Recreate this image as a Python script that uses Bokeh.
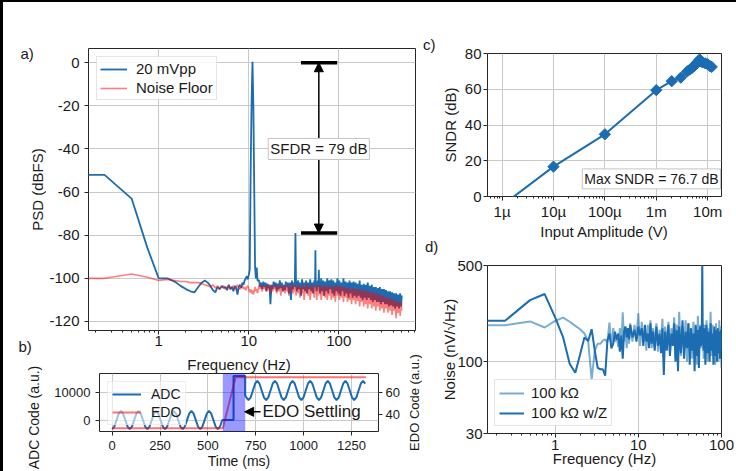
import math
from bokeh.plotting import figure
from bokeh.layouts import row, column
from bokeh.models import (Range1d, LinearAxis, FixedTicker, CustomJSTickFormatter, Spacer,
                          Legend, LegendItem, Label, Arrow, NormalHead, BoxAnnotation)
from bokeh.core.properties import value
from bokeh.embed import file_html
from bokeh.resources import INLINE

# ---------------- panel a: PSD ----------------
freq_lo = [0.125, 0.25, 0.5, 0.75, 1.0, 1.25, 1.5, 1.75, 2.0, 2.25, 2.5, 2.75, 3.0, 3.25, 3.5, 3.75,
           4.0, 4.25, 4.5, 4.75, 5.0, 5.25, 5.5, 5.75, 6.0, 6.25, 6.5, 6.75, 7.0, 7.25, 7.5, 7.75,
           8.0, 8.25, 8.5, 8.75, 9.0, 9.25, 9.5, 9.75, 10.0, 10.25, 10.5, 10.75, 11.0, 11.25, 11.5,
           11.75, 12.0, 12.25, 12.5]
sig_lo = [-52, -52, -63, -86, -100, -100, -101.5, -103.5, -105, -106, -106.5, -104, -102, -101, -102,
          -103.5, -105.5, -106.5, -104, -105, -103.5, -104.5, -104, -105.5, -103, -105, -104, -106,
          -103.5, -104.5, -107.5, -104, -103, -104.5, -102, -103, -101, -100, -99, -100.5, -98.5, -96,
          -50, -18, 0.5, -20, -58, -95, -100, -95, -101]
floor_lo = [-100, -100, -98, -99.5, -101, -100.5, -101, -101.5, -101.5, -102, -102, -102, -102.5, -103,
            -103.5, -104, -103, -104.5, -103.5, -105, -104, -103.5, -105, -104, -103.5, -105, -104,
            -103.5, -105, -104, -103, -104.5, -105, -104, -103.5, -105, -104, -105.5, -104, -103.5,
            -105, -106.5, -105, -107, -105.5, -107.5, -106, -104, -106, -105, -107]
freq_hi = [13, 13.4, 13.7, 14.1, 14.5, 14.9, 15.3, 15.7, 16.1, 16.5,
           17, 17.4, 17.9, 18.4, 18.9, 19.4, 19.9, 20.4, 21, 21.5,
           22.1, 22.7, 23.3, 23.9, 24.5, 25.2, 25.8, 26.5, 27.2, 27.9,
           28.7, 29.4, 30.2, 31, 31.8, 32.5, 33, 33.5, 34.3, 35.2,
           36.2, 37.1, 38.1, 39.1, 40.1, 41.2, 42.3, 43.4, 44.5, 45.7,
           46.9, 48.1, 49.4, 50.7, 52, 53.4, 54.5, 55, 55.5, 56.9,
           58.4, 59.5, 60, 60.5, 62.1, 63.7, 65.4, 67.1, 68.9, 70.7,
           72.6, 74.5, 76.4, 78.4, 80.5, 82.6, 84.8, 87, 89.3, 91.6,
           94, 96.5, 99, 101.6, 104.3, 107, 109.8, 112.7, 115.7, 118.7,
           121.8, 125, 128.3, 131.6, 135.1, 138.6, 142.3, 146, 149.8, 153.7,
           157.8, 161.9, 166.1, 170.5, 175, 179.5, 184.2, 189.1, 194, 199.1,
           204.3, 209.7, 215.2, 220.8, 226.6, 232.6, 238.7, 244.9, 251.3, 257.9,
           264.7, 271.6, 278.7, 286, 293.5, 301.2, 309.1, 317.2, 325.5, 334,
           342.8, 351.8, 361, 370.5, 380.2, 390.1, 400.3, 410.8, 421.6, 432.6,
           444, 455.6, 467.5, 479.8, 492.3, 500]
sig_hi = [-101, -104, -102, -105, -101.5, -104, -102, -106, -102.5, -104.5,
          -103, -112, -103, -105, -101.5, -104, -102, -106, -102.5, -105,
          -101, -104.5, -102, -106, -103, -105.5, -101.5, -104, -102, -107,
          -102, -110, -101, -105, -102, -104, -79, -103, -106, -101,
          -105, -102, -108, -100.5, -105, -102, -106, -101, -107, -102,
          -105, -100.5, -106, -102, -107, -101, -104, -87, -103, -106,
          -101, -104, -96, -103, -107, -100, -106, -101, -108, -101.5,
          -106, -100, -107, -101, -105, -100.5, -107, -101, -108, -102,
          -106, -100, -107, -101, -108, -102, -106, -100, -108, -101.5,
          -107, -102, -109, -101, -107, -102, -109, -101.5, -108, -102,
          -109, -102.5, -108, -101, -109, -103, -110, -102.5, -109, -103,
          -110, -102, -109, -103.5, -110, -103, -111, -104, -110, -104,
          -111, -104.5, -111, -104, -112, -105, -111, -105, -112, -105.5,
          -112, -106, -113, -106, -112.5, -106.5, -113, -107, -114, -107,
          -113, -107.5, -114, -107, -113, -108]
floor_hi = [-103, -105, -103.5, -106, -103, -105, -104, -106, -103, -105.5,
            -103.5, -107, -103, -106, -104, -105, -102.5, -107, -104, -106,
            -103, -108, -104, -106, -103, -107, -104, -106, -103, -108,
            -104, -106, -102.5, -107, -104, -106, -103, -108, -104, -107,
            -103, -109, -104, -107, -103, -110, -104, -107, -102.5, -108,
            -104, -110, -103, -107, -104, -109, -103, -107, -104, -110,
            -103, -108, -104, -107, -103, -110, -104, -108, -103, -109,
            -104, -110, -103, -108, -104, -110, -103.5, -109, -104, -111,
            -103, -108, -104, -110, -103.5, -109, -104, -111, -104, -109,
            -104.5, -111, -104, -110, -105, -112, -104.5, -110, -105, -112,
            -105, -110.5, -105, -113, -105.5, -111, -105, -113, -106, -112,
            -105.5, -114, -106, -112, -106.5, -114, -106, -113, -107, -115,
            -107, -113, -107.5, -115, -108, -114, -108, -116, -108.5, -114,
            -109, -116, -109, -115, -109.5, -117, -110, -115, -110, -118.5,
            -110.5, -116, -111, -117.5, -111, -115]
freq_a = freq_lo + freq_hi
psd_signal = sig_lo + sig_hi
psd_floor = floor_lo + floor_hi
freq_a_ticks = [1, 10, 100]
freq_a_labels = ["1", "10", "100"]
psd_ticks = [-120, -100, -80, -60, -40, -20, 0]
psd_labels = ["-120", "-100", "-80", "-60", "-40", "-20", "0"]
sfdr_bar_hz = [38, 96]
sfdr_levels = [0, -79]
sfdr_arrow_hz = 60
sfdr_text_db = -40

# ---------------- panel b: time domain ----------------
t_adc = [0, 11.5, 23, 34.5, 46, 57.5, 69, 80.5, 92, 103.5, 115, 126.5, 138, 149.5, 161, 172.5,
         184, 195.5, 207, 218.5, 230, 241.5, 253, 264.5, 276, 287.5, 299, 310.5, 322, 333.5, 345,
         356.5, 368, 379.5, 391, 402.5, 414, 425.5, 437, 448.5, 460, 471.5, 483, 494.5, 506, 517.5,
         529, 540.5, 552, 563.5, 575,
         578, 634, 634, 695, 695,
         700.5, 712, 723.5, 735, 746.5, 758, 769.5, 781, 792.5, 804, 815.5, 827, 838.5, 850, 861.5,
         873, 884.5, 896, 907.5, 919, 930.5, 942, 953.5, 965, 976.5, 988, 999.5, 1011, 1022.5,
         1034, 1045.5, 1057, 1068.5, 1080, 1091.5, 1103, 1114.5, 1126, 1137.5, 1149, 1160.5, 1172,
         1183.5, 1195, 1206.5, 1218, 1229.5, 1241, 1252.5, 1264, 1275.5, 1287, 1298.5, 1310, 1321.5]
adc_code = [-3300, -2330, 0, 2330, 3300, 2330, 0, -2330, -3300, -2330, 0, 2330, 3300, 2330, 0, -2330,
            -3300, -2330, 0, 2330, 3300, 2330, 0, -2330, -3300, -2330, 0, 2330, 3300, 2330, 0, -2330,
            -3300, -2330, 0, 2330, 3300, 2330, 0, -2330, -3300, -2330, 0, 2330, 3300, 2330, 0, -2330,
            -3300, -2330, 0,
            0, 0, 16000, 16000, 9000,
            8225, 7200, 8225, 10700, 13175, 14200, 13175, 10700, 8225, 7200, 8225, 10700, 13175, 14200,
            13175, 10700, 8225, 7200, 8225, 10700, 13175, 14200, 13175, 10700, 8225, 7200, 8225, 10700,
            13175, 14200, 13175, 10700, 8225, 7200, 8225, 10700, 13175, 14200, 13175, 10700, 8225,
            7200, 8225, 10700, 13175, 14200, 13175, 10700, 8225, 7200, 8225, 10700, 13175, 14200, 13175]
t_edo = [0, 578, 645, 1325]
edo_code = [27, 27, 74, 74]
settle_ms = [578, 695]
settle_arrow_ms = [775, 692]
settle_arrow_code = 3000
time_ticks = [0, 250, 500, 750, 1000, 1250]
time_labels = ["0", "250", "500", "750", "1000", "1250"]
adc_ticks = [0, 10000]
adc_labels = ["0", "10000"]
edo_ticks = [40, 60]
edo_labels = ["40", "60"]

# ---------------- panel c: SNDR ----------------
amp_v = [1e-6, 1e-5, 1e-4, 1e-3, 2e-3, 3e-3, 4e-3, 4.5e-3, 5e-3, 5.5e-3, 6e-3, 6.5e-3, 7e-3,
         7.5e-3, 8e-3, 9e-3, 1e-2, 1.1e-2, 1.2e-2]
sndr_db = [-5, 16.7, 34.8, 59.5, 64.5, 66.5, 70, 71, 72, 73, 74.5, 75.5, 76.7, 75.5, 75, 74.5, 74,
           73, 72.5]
amp_ticks = [1e-6, 1e-5, 1e-4, 1e-3, 1e-2]
amp_labels = ["1µ", "10µ", "100µ", "1m", "10m"]
sndr_ticks = [0, 20, 40, 60, 80]
sndr_labels = ["0", "20", "40", "60", "80"]

# ---------------- panel d: noise ----------------
freq_d = [0.125, 0.25, 0.5, 0.75, 1.0, 1.25, 1.5, 1.75, 2.0, 2.25, 2.5, 2.75, 3.0, 3.25, 3.5, 3.75,
          4.0, 4.25,
          4.5, 4.75, 5, 5.25, 5.5, 5.75, 6, 6.25, 6.5, 6.75, 7, 7.25, 7.5, 7.75, 8,
          8.5, 9, 9.5, 10, 10.5, 11, 11.5, 12, 12.5, 13, 13.5, 14, 14.5, 15,
          15.75, 16.5, 17.25, 18, 18.75, 19.5, 20.25, 21,
          22, 23, 24, 25, 26, 27, 28, 29, 30, 31,
          32.5, 34, 35.5, 37, 38.5, 40, 41.5, 43, 44.5, 46, 47.5, 49, 50.5, 52, 53.5, 55, 56.5, 58,
          58.75, 59.5,
          61, 62.5, 64,
          66, 68, 70, 72, 74, 76, 78, 80, 82, 84, 86, 88, 90, 92, 94, 96, 98, 100]
noise_100k = [184, 184, 196, 177, 198, 209, 195, 182, 172, 160, 140, 74, 120, 135, 135, 142, 145, 138,
              192, 130, 175, 140, 150, 128, 175, 130, 228, 140, 180, 125, 165, 135, 190,
              140, 185, 150, 225, 130, 195, 140, 170, 120, 185, 135, 200, 125, 175,
              140, 190, 118, 170, 135, 205, 110, 180,
              130, 195, 115, 175, 140, 210, 105, 185, 125, 230,
              110, 180, 120, 200, 100, 190, 130, 175, 105, 195, 120, 180, 95, 215, 115, 185, 125, 175,
              150, 190,
              105, 185, 120,
              200, 100, 175, 125, 230, 110, 185, 120, 170, 95, 190, 115, 175, 100, 200, 110, 180, 90]
noise_100k_z = [198, 198, 280, 310, 210, 150, 96, 83, 113, 150, 141, 172, 120, 90, 88, 88, 79, 141,
                160, 125, 135, 165, 145, 160, 118, 155, 105, 165, 180, 150, 175, 145, 185,
                150, 170, 140, 180, 155, 175, 130, 185, 140, 160, 125, 190, 135, 165,
                120, 180, 130, 160, 115, 175, 80, 165,
                120, 185, 110, 160, 130, 190, 100, 170, 85, 180,
                115, 200, 105, 165, 125, 190, 95, 175, 120, 160, 85, 185, 110, 170, 90, 180, 130, 160,
                560, 150,
                120, 175, 95,
                185, 115, 165, 100, 190, 120, 160, 95, 180, 110, 170, 100, 175, 115, 165, 105, 170, 120]
freq_d_ticks = [1, 10, 100]
freq_d_labels = ["1", "10", "100"]
noise_ticks = [30, 100, 500]
noise_labels = ["30", "100", "500"]

# ---------------- styling helpers ----------------
FONT = "Liberation Sans"
INK = "#1a1a1a"
FRAME = "#262626"
GRID = "#c9c9c9"
BLUE = "#1b6cb0"
PAGE_H = 471


def log_minor(lo_exp, hi_exp):
    return [m * 10.0 ** e for e in range(lo_exp, hi_exp) for m in range(2, 10)]


def fmt(ticks, labels):
    return CustomJSTickFormatter(args=dict(tvals=list(ticks), tlabs=list(labels)), code="""
        for (let i = 0; i < tvals.length; i++) {
            if (Math.abs(tvals[i] - tick) <= 1e-9 * Math.abs(tvals[i]) + 1e-12) { return tlabs[i]; }
        }
        return "";
    """)


def set_ticks(ax, grid, ticks, labels, minor=()):
    ax.ticker = FixedTicker(ticks=list(ticks), minor_ticks=list(minor))
    ax.formatter = fmt(ticks, labels)
    if grid is not None:
        grid.ticker = FixedTicker(ticks=list(ticks))


def style_axis(ax, size, label_standoff=2, axis_standoff=0):
    ax.axis_line_color = None
    ax.major_tick_in = 0
    ax.major_tick_out = 4
    ax.minor_tick_in = 0
    ax.minor_tick_out = 2
    ax.major_tick_line_color = FRAME
    ax.minor_tick_line_color = FRAME
    ax.major_label_text_font = FONT
    ax.major_label_text_font_size = size
    ax.major_label_text_color = INK
    ax.major_label_standoff = label_standoff
    ax.axis_label_text_font = FONT
    ax.axis_label_text_font_size = size
    ax.axis_label_text_font_style = "normal"
    ax.axis_label_text_color = INK
    ax.axis_label_standoff = axis_standoff


def style_fig(p):
    p.outline_line_color = FRAME
    p.outline_line_width = 1
    p.outline_line_alpha = 1
    p.background_fill_color = "white"
    p.border_fill_color = "white"
    for g in p.grid:
        g.grid_line_color = GRID
        g.grid_line_width = 1


def style_title(t, size):
    t.text_font = FONT
    t.text_font_size = size
    t.text_font_style = "normal"
    t.text_color = INK


def in_label(p, x, y, text, size, align="left", units="screen", **kw):
    p.add_layout(Label(x=x, y=y, x_units=units, y_units=units, text=text,
                       text_font=FONT, text_font_size=size, text_color=INK,
                       text_align=align, text_baseline="middle", **kw))


def style_legend(leg, size, glyph_w, standoff, margin, padding, lab_h, spacing, bg_alpha, border):
    leg.label_text_font = FONT
    leg.label_text_font_size = size
    leg.label_text_color = INK
    leg.glyph_width = glyph_w
    leg.glyph_height = lab_h
    leg.label_height = lab_h
    leg.label_standoff = standoff
    leg.margin = margin
    leg.padding = padding
    leg.spacing = spacing
    leg.background_fill_color = "white"
    leg.background_fill_alpha = bg_alpha
    leg.border_line_color = border
    leg.border_line_width = 1


def strip(x0, x1, y0, y1, texts):
    """Blank text-only panel covering page pixels [x0,x1] x [y0,y1] (y downward)."""
    s = figure(width=x1 - x0, height=y1 - y0, x_range=Range1d(x0, x1),
               y_range=Range1d(PAGE_H - y1, PAGE_H - y0),
               output_backend="svg", toolbar_location=None,
               x_axis_location=None, y_axis_location=None, min_border=0)
    s.outline_line_color = None
    s.grid.visible = False
    s.background_fill_color = "white"
    s.border_fill_color = "white"
    for (tx, ty, txt, size, align, ang) in texts:
        s.text(x=[tx], y=[PAGE_H - ty], text=[txt], angle=ang, text_align=align,
               text_baseline="middle", text_font=value(FONT), text_font_size=value(size),
               text_color=INK)
    return s


# ---------------- panel a ----------------
pa = figure(width=376, height=350, x_axis_type="log",
            x_range=Range1d(0.166, 711), y_range=Range1d(-124.2, 6.6),
            output_backend="svg", toolbar_location=None,
            min_border_left=42, min_border_right=7, min_border_top=46, min_border_bottom=22)
style_fig(pa)
style_axis(pa.xaxis[0], "15px", label_standoff=1)
style_axis(pa.yaxis[0], "15px", label_standoff=5)
set_ticks(pa.xaxis[0], pa.xgrid[0], freq_a_ticks, freq_a_labels, log_minor(-1, 3))
set_ticks(pa.yaxis[0], pa.ygrid[0], psd_ticks, psd_labels)

r_sig = pa.line(freq_a, psd_signal, line_color=BLUE, line_width=1.8)
r_floor = pa.line(freq_a, psd_floor, line_color="red", line_alpha=0.5, line_width=1.6)
leg_a = Legend(items=[LegendItem(label="20 mVpp", renderers=[r_sig]),
                      LegendItem(label="Noise Floor", renderers=[r_floor])],
               location="top_left")
style_legend(leg_a, "15px", 27, 9, 8, 3, 16, 2, 0.85, "#cccccc")
pa.add_layout(leg_a)

pa.segment(x0=[sfdr_bar_hz[0]] * 2, x1=[sfdr_bar_hz[1]] * 2, y0=sfdr_levels, y1=sfdr_levels,
           line_color="black", line_width=3.5)
pa.add_layout(Arrow(start=NormalHead(size=9, fill_color="black", line_color="black"),
                    end=NormalHead(size=9, fill_color="black", line_color="black"),
                    x_start=sfdr_arrow_hz, y_start=sfdr_levels[1],
                    x_end=sfdr_arrow_hz, y_end=sfdr_levels[0],
                    line_color="black", line_width=1.5))
in_label(pa, sfdr_arrow_hz, sfdr_text_db, "SFDR = 79 dB", "15px", align="center", units="data",
         background_fill_color="white", border_line_color="#c4c4c4", padding=2)

# ---------------- panel b (its title row carries panel a's x-axis title) ----------------
pb = figure(width=358, height=119,
            x_range=Range1d(-66, 1391), y_range=Range1d(-4130, 16880),
            output_backend="svg", toolbar_location=None,
            min_border_left=53, min_border_right=26, min_border_top=21, min_border_bottom=40,
            x_axis_label="Time (ms)", title="Frequency (Hz)")
pb.title.align = "center"
pb.title.offset = 12
pb.title.standoff = 2
style_title(pb.title, "15px")
pb.extra_y_ranges = {"edo": Range1d(24, 77.4)}
ax_edo = LinearAxis(y_range_name="edo")
pb.add_layout(ax_edo, "right")
style_fig(pb)
style_axis(pb.xaxis[0], "13px", label_standoff=5, axis_standoff=0)
pb.xaxis[0].axis_label_text_font_size = "14px"
style_axis(pb.yaxis[0], "13px", label_standoff=5)
style_axis(ax_edo, "13px", label_standoff=3)
set_ticks(pb.xaxis[0], pb.xgrid[0], time_ticks, time_labels)
set_ticks(pb.yaxis[0], pb.ygrid[0], adc_ticks, adc_labels)
set_ticks(ax_edo, None, edo_ticks, edo_labels)

r_adc = pb.line(t_adc, adc_code, line_color=BLUE, line_width=2)
r_edo = pb.line(t_edo, edo_code, line_color="red", line_alpha=0.55, line_width=2, y_range_name="edo")
pb.add_layout(BoxAnnotation(left=settle_ms[0], right=settle_ms[1], fill_color="blue",
                            fill_alpha=0.4, line_color=None))
leg_b = Legend(items=[LegendItem(label="ADC", renderers=[r_adc]),
                      LegendItem(label="EDO", renderers=[r_edo])],
               location="top_left")
style_legend(leg_b, "14px", 29, 10, 8, 4, 16, 2, 0.6, "#dddddd")
pb.add_layout(leg_b)
pb.add_layout(Arrow(end=NormalHead(size=9, fill_color="black", line_color="black"),
                    x_start=settle_arrow_ms[0], y_start=settle_arrow_code,
                    x_end=settle_arrow_ms[1], y_end=settle_arrow_code,
                    line_color="black", line_width=1.5))
in_label(pb, settle_arrow_ms[0] + 10, settle_arrow_code, "EDO Settling", "17px", units="data")

# right-hand axis title of panel b, as a left-side title of a narrow blank panel
s_edo = figure(width=18, height=119, output_backend="svg", toolbar_location=None,
               x_axis_location=None, y_axis_location=None,
               min_border_left=2, min_border_right=0, min_border_top=0, min_border_bottom=0,
               title="EDO Code (a.u.)", title_location="left")
s_edo.outline_line_color = None
s_edo.grid.visible = False
s_edo.border_fill_color = "white"
s_edo.background_fill_color = "white"
s_edo.title.align = "center"
s_edo.title.standoff = 0
style_title(s_edo.title, "13px")

# ---------------- panel c ----------------
pc = figure(width=298, height=240, x_axis_type="log",
            x_range=Range1d(5.2e-7, 1.86e-2), y_range=Range1d(0, 80),
            output_backend="svg", toolbar_location=None,
            min_border_left=43, min_border_right=15, min_border_top=51, min_border_bottom=42,
            x_axis_label="Input Amplitude (V)", y_axis_label="SNDR (dB)")
style_fig(pc)
style_axis(pc.xaxis[0], "15px", label_standoff=2, axis_standoff=0)
style_axis(pc.yaxis[0], "15px", label_standoff=2, axis_standoff=3)
set_ticks(pc.xaxis[0], pc.xgrid[0], amp_ticks, amp_labels, log_minor(-7, -1))
set_ticks(pc.yaxis[0], pc.ygrid[0], sndr_ticks, sndr_labels)
pc.line(amp_v, sndr_db, line_color=BLUE, line_width=2)
pc.scatter(amp_v, sndr_db, marker="square", angle=math.pi / 4, size=8,
           fill_color=BLUE, line_color=BLUE)
in_label(pc, 233, 17.6, "Max SNDR = 76.7 dB", "14px", align="right",
         background_fill_color="white", border_line_color="#c4c4c4", padding=2)

# ---------------- panel d ----------------
pdn = figure(width=298, height=229, x_axis_type="log", y_axis_type="log",
             x_range=Range1d(0.154, 100), y_range=Range1d(30, 500),
             output_backend="svg", toolbar_location=None,
             min_border_left=43, min_border_right=15, min_border_top=23, min_border_bottom=38,
             x_axis_label="Frequency (Hz)", y_axis_label="Noise (nV/√Hz)")
style_fig(pdn)
style_axis(pdn.xaxis[0], "15px", label_standoff=2, axis_standoff=-3)
style_axis(pdn.yaxis[0], "15px", label_standoff=1, axis_standoff=-4)
set_ticks(pdn.xaxis[0], pdn.xgrid[0], freq_d_ticks, freq_d_labels, log_minor(-1, 2))
set_ticks(pdn.yaxis[0], pdn.ygrid[0], noise_ticks, noise_labels)
r_plain = pdn.line(freq_d, noise_100k, line_color="#1f77b4", line_alpha=0.6, line_width=2)
r_z = pdn.line(freq_d, noise_100k_z, line_color=BLUE, line_width=2)
leg_d = Legend(items=[LegendItem(label="100 kΩ", renderers=[r_plain]),
                      LegendItem(label="100 kΩ w/Z", renderers=[r_z])],
               location="bottom_left")
style_legend(leg_d, "15px", 25, 7, 7, 4, 16, 3, 0.85, "#cccccc")
pdn.add_layout(leg_d)

# ---------------- text-only strips (panel tags and outer axis titles) ----------------
HALF_PI = math.pi / 2
s_left = strip(3, 46, 2, 471, [
    (20, 53, "a)", "15px", "left", 0.0),
    (36.7, 189, "PSD (dBFS)", "15px", "center", HALF_PI),
    (18, 346, "b)", "15px", "left", 0.0),
    (33, 417, "ADC Code (a.u.)", "14px", "center", HALF_PI),
])
s_mid = strip(422, 438, 2, 471, [
    (422.5, 44, "c)", "15px", "left", 0.0),
    (424.5, 246, "d)", "15px", "left", 0.0),
])

BLACK = {"background-color": "black"}
top_rule = Spacer(width=736, height=2, styles=BLACK)
left_rule = Spacer(width=3, height=469, styles=BLACK)

layout = column(
    top_rule,
    row(left_rule, s_left, column(pa, row(pb, s_edo)), s_mid, column(pc, pdn)),
)
open("out.html", "w").write(file_html(layout, INLINE))
